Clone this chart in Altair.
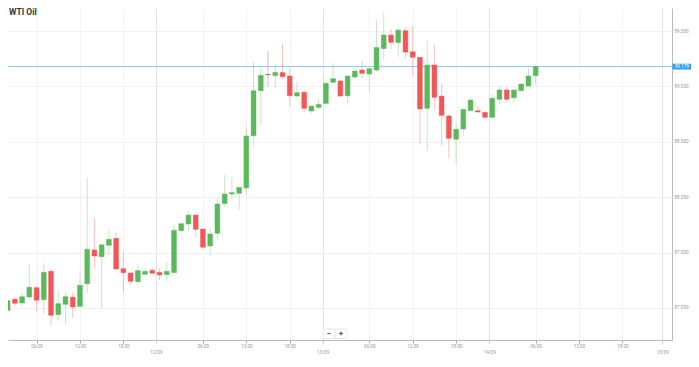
import altair as alt
import pandas as pd

title_text = "WTI Oil"

opens = [86.883, 86.979, 87.079, 87.045, 87.099, 87.183, 87.075, 87.331, 86.940, 87.033,
         87.097, 87.015, 87.219, 87.524, 87.463, 87.566, 87.629, 87.355, 87.316, 87.237,
         87.304, 87.340, 87.322, 87.301, 87.319, 87.698, 87.758, 87.839, 87.713, 87.560,
         87.674, 87.943, 88.029, 88.035, 88.083, 88.555, 88.961, 89.107, 89.097, 89.125,
         89.094, 88.913, 88.947, 88.778, 88.811, 88.847, 89.037, 89.049, 88.916, 89.085,
         89.148, 89.112, 89.148, 89.342, 89.464, 89.396, 89.503, 89.313, 89.263, 88.802,
         89.193, 88.913, 88.733, 88.523, 88.616, 88.781, 88.781, 88.766, 88.721, 88.884,
         88.968, 88.898, 88.961, 89.004, 89.097]
highs = [87.018, 87.111, 87.102, 87.135, 87.394, 87.192, 87.403, 87.355, 87.156, 87.147,
         87.142, 87.313, 88.171, 87.810, 87.571, 87.704, 87.692, 87.508, 87.316, 87.397,
         87.340, 87.361, 87.358, 87.413, 87.755, 87.761, 87.875, 87.839, 87.713, 87.719,
         87.993, 88.200, 88.178, 88.089, 88.636, 89.220, 89.171, 89.319, 89.193, 89.389,
         89.163, 89.042, 88.968, 88.823, 88.893, 89.028, 89.208, 89.064, 89.094, 89.139,
         89.229, 89.160, 89.599, 89.665, 89.515, 89.509, 89.539, 89.545, 89.263, 89.412,
         89.374, 89.028, 88.751, 88.667, 88.793, 88.902, 88.823, 88.766, 88.931, 89.004,
         88.997, 88.968, 89.022, 89.163, 89.199]
lows = [86.774, 86.928, 87.012, 87.012, 87.079, 86.967, 86.943, 86.844, 86.885, 86.862,
        86.913, 87.006, 87.133, 87.358, 86.994, 87.485, 87.343, 87.133, 87.210, 87.237,
        87.295, 87.313, 87.253, 87.241, 87.319, 87.674, 87.698, 87.635, 87.548, 87.469,
        87.614, 87.916, 87.975, 87.885, 88.020, 88.456, 88.652, 88.997, 88.977, 89.064,
        88.823, 88.907, 88.772, 88.757, 88.793, 88.847, 89.037, 88.913, 88.853, 89.070,
        89.073, 88.952, 89.133, 89.238, 89.338, 89.268, 89.256, 89.094, 88.480, 88.420,
        88.781, 88.462, 88.351, 88.311, 88.552, 88.781, 88.769, 88.721, 88.712, 88.838,
        88.871, 88.847, 88.961, 89.004, 89.022]
closes = [86.973, 87.066, 87.043, 87.102, 87.187, 87.070, 87.322, 86.934, 87.039, 87.102,
          87.009, 87.205, 87.530, 87.469, 87.571, 87.620, 87.352, 87.319, 87.241, 87.337,
          87.331, 87.313, 87.298, 87.331, 87.701, 87.761, 87.839, 87.710, 87.548, 87.668,
          87.939, 88.029, 88.041, 88.089, 88.552, 88.961, 89.100, 89.107, 89.127, 89.088,
          88.916, 88.943, 88.802, 88.823, 88.838, 89.028, 89.070, 88.913, 89.094, 89.139,
          89.118, 89.160, 89.351, 89.464, 89.398, 89.509, 89.310, 89.263, 88.796, 89.193,
          88.902, 88.739, 88.532, 88.613, 88.793, 88.877, 88.769, 88.721, 88.893, 88.968,
          88.884, 88.968, 89.022, 89.094, 89.179]

time_tick_index = [5, 11, 17, 28, 34, 40, 51, 57, 63, 74, 80, 86]
time_tick_labels = ["06:00", "12:00", "18:00"] * 4
date_tick_index = [21.5, 44.55, 67.6, 91.5]
date_tick_labels = ["12/09", "13/09", "14/09", "15/09"]
y_ticks = [87.0, 87.5, 88.0, 88.5, 89.0, 89.5]
last_price = 89.179
last_price_label = "89.179"
zoom_buttons = ["\u2212", "+"]

df = pd.DataFrame({
    "idx": list(range(len(opens))),
    "open": opens, "high": highs, "low": lows, "close": closes,
})

GREEN = "#5cb85c"
RED = "#f25757"
GRAY = "#555555"

tick_vals = time_tick_index + date_tick_index
tick_labs = time_tick_labels + date_tick_labels
label_expr = "".join(f"datum.value == {v} ? '{l}' : " for v, l in zip(tick_vals, tick_labs)) + "''"
is_date = "datum.value % 1 != 0"

x_scale = alt.Scale(domain=[1.05, 92.85], nice=False, zero=False, padding=0)
y_scale = alt.Scale(domain=[86.711, 89.708], nice=False, zero=False, padding=0)

x_axis = alt.Axis(
    values=tick_vals, labelExpr=label_expr, title=None, grid=True,
    gridColor={"condition": {"test": is_date, "value": "#e3e3e3"}, "value": "#f3f3f3"},
    tickSize=3,
    tickDash={"condition": {"test": is_date, "value": [1, 1]}, "value": []},
    labelPadding={"condition": {"test": is_date, "value": 6.3}, "value": 0.6},
    tickColor="#aaaaaa", domainColor="#bbbbbb",
    labelFontSize=4.6, labelColor="#999999", labelFont="Roboto",
    labelFlush=False, labelOverlap=False,
)
y_axis = alt.Axis(
    orient="right", values=y_ticks, format=".3f", title=None, grid=True,
    gridColor="#f1f1f1", ticks=False, domainColor="#bbbbbb", labelPadding=2,
    labelFontSize=4.6, labelColor="#999999", labelFont="Roboto",
    labelFlush=False, labelOverlap=False,
)

dir_scale = alt.Scale(domain=["up", "down", "flat"], range=[GREEN, RED, GRAY])
op_scale = alt.Scale(domain=["up", "down", "flat"], range=[0.35, 0.35, 0.85])

base = alt.Chart(df).transform_calculate(
    dir="datum.close > datum.open ? 'up' : (datum.close < datum.open ? 'down' : 'flat')"
)

price_df = pd.DataFrame({"price": [last_price], "label": [last_price_label]})
price_line = alt.Chart(price_df).mark_rule(color="#86c4ee", strokeWidth=1).encode(
    y=alt.Y("price:Q", scale=y_scale, title=None)
)

wicks = base.mark_rule(strokeWidth=1).encode(
    x=alt.X("idx:Q", scale=x_scale, axis=x_axis, title=None),
    y=alt.Y("low:Q", scale=y_scale, axis=y_axis, title=None),
    y2="high:Q",
    color=alt.Color("dir:N", scale=dir_scale, legend=None),
    opacity=alt.Opacity("dir:N", scale=op_scale, legend=None),
)

bodies = base.mark_bar(size=4.8, strokeWidth=0.5).encode(
    x=alt.X("idx:Q", scale=x_scale, title=None),
    y=alt.Y("open:Q", scale=y_scale, title=None),
    y2="close:Q",
    color=alt.Color("dir:N", scale=dir_scale, legend=None),
    stroke=alt.Stroke("dir:N", scale=dir_scale, legend=None),
)

tag = alt.Chart(price_df).transform_calculate(
    lo="datum.price - 0.026", hi="datum.price + 0.026"
).mark_rect(color="#2e9bf0").encode(
    x=alt.value(664.5), x2=alt.value(683),
    y=alt.Y("lo:Q", scale=y_scale, title=None), y2="hi:Q",
)
tag_text = alt.Chart(price_df).mark_text(
    color="white", fontSize=4.6, font="Roboto", align="center", baseline="middle"
).encode(
    x=alt.value(674), y=alt.Y("price:Q", scale=y_scale, title=None), text="label:N"
)

title_df = pd.DataFrame({"t": [title_text]})
title = alt.Chart(title_df).mark_text(
    align="left", baseline="alphabetic", fontWeight="bold", fontSize=8.5,
    font="Roboto", color="#333333"
).encode(x=alt.value(1), y=alt.value(7.4), text="t:N")

btn_df = pd.DataFrame({"s": zoom_buttons})
btn_minus = alt.Chart(btn_df.iloc[:1]).mark_rect(
    fill="white", stroke="#dddddd", strokeWidth=0.7, cornerRadius=1
).encode(x=alt.value(315), x2=alt.value(327), y=alt.value(321), y2=alt.value(330.5))
btn_plus = alt.Chart(btn_df.iloc[1:]).mark_rect(
    fill="white", stroke="#dddddd", strokeWidth=0.7, cornerRadius=1
).encode(x=alt.value(327), x2=alt.value(339), y=alt.value(321), y2=alt.value(330.5))
txt_minus = alt.Chart(btn_df.iloc[:1]).mark_text(
    fontSize=8, fontWeight="bold", color="#555555", align="center", baseline="middle", font="Roboto"
).encode(x=alt.value(321), y=alt.value(325.7), text="s:N")
txt_plus = alt.Chart(btn_df.iloc[1:]).mark_text(
    fontSize=8, fontWeight="bold", color="#555555", align="center", baseline="middle", font="Roboto"
).encode(x=alt.value(333), y=alt.value(325.7), text="s:N")

chart = alt.layer(
    wicks, price_line, bodies, tag, tag_text, title,
    btn_minus, btn_plus, txt_minus, txt_plus
).properties(
    width=664, height=332,
    autosize=alt.AutoSizeParams(type="none"),
    padding={"left": 0, "top": 0, "right": 19, "bottom": 14},
).configure(background="#ffffff").configure_view(stroke=None)

chart.save("out.html", embed_options={"renderer": "svg", "actions": False})
